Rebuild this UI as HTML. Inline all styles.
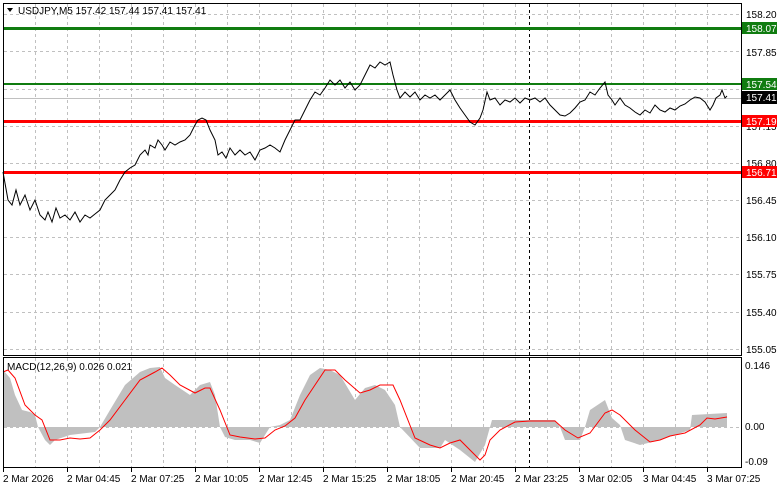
<!DOCTYPE html>
<html><head><meta charset="utf-8"><style>
body{margin:0;background:#fff;width:781px;height:489px;overflow:hidden;font-family:"Liberation Sans",sans-serif}
svg text{font-family:"Liberation Sans",sans-serif;font-size:10px;fill:#000}
</style></head><body>
<svg width="781" height="489" viewBox="0 0 781 489" xmlns="http://www.w3.org/2000/svg">
<rect width="781" height="489" fill="#fff"/>
<g stroke="#c0c0c0" stroke-dasharray="3,3" stroke-width="1">
<path d="M35.5 4V355M67.5 4V355M99.5 4V355M131.5 4V355M163.5 4V355M195.5 4V355M227.5 4V355M259.5 4V355M291.5 4V355M323.5 4V355M355.5 4V355M387.5 4V355M419.5 4V355M451.5 4V355M483.5 4V355M515.5 4V355M547.5 4V355M579.5 4V355M611.5 4V355M643.5 4V355M675.5 4V355M707.5 4V355"/>
<path d="M35.5 358V467M67.5 358V467M99.5 358V467M131.5 358V467M163.5 358V467M195.5 358V467M227.5 358V467M259.5 358V467M291.5 358V467M323.5 358V467M355.5 358V467M387.5 358V467M419.5 358V467M451.5 358V467M483.5 358V467M515.5 358V467M547.5 358V467M579.5 358V467M611.5 358V467M643.5 358V467M675.5 358V467M707.5 358V467"/>
<path d="M4 14.5H741M4 51.5H741M4 89.5H741M4 126.5H741M4 163.5H741M4 200.5H741M4 237.5H741M4 274.5H741M4 312.5H741M4 349.5H741"/>
<path d="M4 427.5H741"/>
</g>
<line x1="4" y1="98.5" x2="741" y2="98.5" stroke="#c0c0c0"/>
<line x1="529.5" y1="4" x2="529.5" y2="467" stroke="#000" stroke-dasharray="3,3"/>
<!-- levels -->
<rect x="3" y="27" width="738" height="3" fill="#107c10"/>
<rect x="3" y="83" width="738" height="2" fill="#107c10"/>
<rect x="3" y="120" width="738" height="3" fill="#f00"/>
<rect x="3" y="171" width="738" height="3" fill="#f00"/>
<!-- price -->
<polyline fill="none" stroke="#000" stroke-width="1" points="3,172 8,200 12,205 16,190 20,205 25,195 30,210 35,200 40,215 45,220 48,212 52,222 56,208 60,218 65,215 70,220 75,212 80,222 85,215 90,218 95,214 100,210 105,200 110,195 115,190 120,180 125,172 130,168 135,165 140,155 145,150 148,155 150,145 155,148 158,140 162,145 165,150 170,142 175,145 180,142 185,140 190,135 195,125 198,120 202,118 206,120 210,130 215,140 218,155 222,152 226,158 230,148 235,155 240,150 245,155 250,152 255,160 260,150 265,148 270,145 275,148 280,152 285,140 290,130 295,120 300,120 305,110 310,100 315,92 320,95 325,88 330,80 335,85 340,80 345,88 350,82 355,90 360,85 365,75 370,65 375,68 380,62 385,65 390,62 393,75 397,90 400,98 405,92 410,97 415,92 420,100 425,95 430,98 435,95 440,100 445,95 450,90 455,100 460,108 465,115 470,122 475,125 480,118 483,110 487,92 490,100 495,98 500,105 505,100 510,102 515,98 520,103 525,98 530,100 535,98 540,102 545,98 550,105 555,110 560,115 565,116 570,113 575,108 580,102 585,100 590,92 595,95 600,88 605,82 608,95 612,100 615,105 620,98 625,105 630,108 635,112 640,115 645,110 650,113 655,105 660,110 665,112 670,108 675,110 680,106 685,104 690,100 695,97 700,98 705,102 710,110 713,105 716,98 720,95 722,90 725,98 727,96"/>
<!-- MACD hist -->
<polygon fill="#c0c0c0" points="3,427 3,370 10,378 15,395 22,410 30,412 35,415 38,427 45,440 50,445 55,440 70,435 95,432 100,427 110,410 125,385 140,372 150,368 160,367 165,378 175,385 190,395 200,385 210,382 215,395 220,427 225,437 235,440 250,440 260,443 270,427 280,425 290,420 300,395 310,375 320,368 330,370 340,375 355,400 365,388 375,385 385,390 395,405 400,427 420,448 440,448 445,440 460,450 475,462 485,445 490,427 492,420 555,420 560,427 565,440 580,440 585,427 590,410 605,400 612,418 620,425 625,440 640,445 660,440 675,435 690,430 692,415 727,413 727,427"/>
<polyline fill="none" stroke="#f00" stroke-width="1" points="3,372 8,370 15,378 25,405 35,415 42,420 50,440 60,440 70,438 80,439 90,438 100,430 110,420 125,400 140,380 155,372 162,368 170,375 180,385 195,393 205,388 210,388 220,410 230,435 240,437 255,439 265,438 275,430 285,426 295,418 305,400 315,385 325,370 335,370 345,380 360,393 370,390 380,385 393,385 400,400 415,438 430,445 440,448 450,443 460,440 470,450 480,460 485,455 490,440 500,430 515,422 530,421 555,421 565,430 578,438 590,433 605,413 612,410 620,415 635,430 650,442 660,440 670,436 685,433 700,425 707,418 715,419 727,417"/>
<!-- frames -->
<rect x="3.5" y="3.5" width="738" height="352" fill="none" stroke="#000"/>
<rect x="3.5" y="357.5" width="738" height="110" fill="none" stroke="#000"/>
<!-- axis labels -->
<text x="746" y="18">158.20</text>
<text x="746" y="56">157.85</text>
<text x="746" y="130">157.15</text>
<text x="746" y="167">156.80</text>
<text x="746" y="204">156.45</text>
<text x="746" y="241">156.10</text>
<text x="746" y="278">155.75</text>
<text x="746" y="316">155.40</text>
<text x="746" y="353">155.05</text>
<rect x="742" y="22" width="35" height="12" fill="#107c10"/><text x="746" y="32" style="fill:#fff">158.07</text>
<rect x="742" y="78" width="35" height="12" fill="#107c10"/><text x="746" y="88" style="fill:#fff">157.54</text>
<rect x="742" y="91" width="35" height="13" fill="#000"/><text x="746" y="101" style="fill:#fff">157.41</text>
<rect x="742" y="115" width="35" height="12" fill="#f00"/><text x="746" y="125" style="fill:#fff">157.19</text>
<rect x="742" y="166" width="35" height="12" fill="#f00"/><text x="746" y="176" style="fill:#fff">156.71</text>
<text x="745" y="369">0.146</text>
<text x="745" y="430">0.00</text>
<text x="745" y="465">-0.09</text>
<g stroke="#000"><path d="M3.5 468v4M67.5 468v4M131.5 468v4M195.5 468v4M259.5 468v4M323.5 468v4M387.5 468v4M451.5 468v4M515.5 468v4M579.5 468v4M643.5 468v4M707.5 468v4"/></g>
<text x="3" y="482">2 Mar 2026</text>
<text x="67" y="482">2 Mar 04:45</text>
<text x="131" y="482">2 Mar 07:25</text>
<text x="195" y="482">2 Mar 10:05</text>
<text x="259" y="482">2 Mar 12:45</text>
<text x="323" y="482">2 Mar 15:25</text>
<text x="387" y="482">2 Mar 18:05</text>
<text x="451" y="482">2 Mar 20:45</text>
<text x="515" y="482">2 Mar 23:25</text>
<text x="579" y="482">3 Mar 02:05</text>
<text x="643" y="482">3 Mar 04:45</text>
<text x="707" y="482">3 Mar 07:25</text>
<polygon points="7,8 13,8 10,12" fill="#000"/>
<text x="18" y="14">USDJPY,M5  157.42 157.44 157.41 157.41</text>
<text x="7" y="370">MACD(12,26,9) 0.026 0.021</text>
</svg>
</body></html>
